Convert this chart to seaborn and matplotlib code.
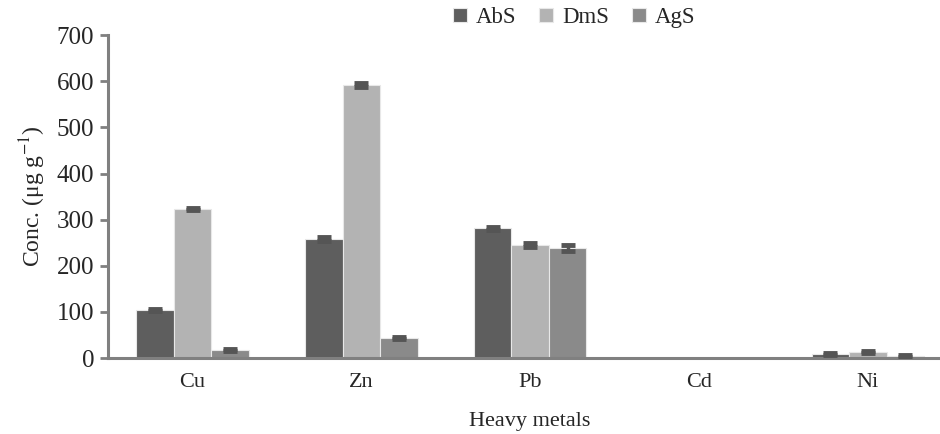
import matplotlib
matplotlib.use("Agg")
import matplotlib.pyplot as plt
import seaborn as sns
import pandas as pd
import numpy as np

metals = ["Cu", "Zn", "Pb", "Cd", "Ni"]
series = ["AbS", "DmS", "AgS"]
abs_vals = [104, 258, 281, 0.5, 8]
dms_vals = [323, 592, 245, 0.5, 14]
ags_vals = [18, 44, 238, 0.5, 5]
abs_err = [3, 5, 4, 0, 2]
dms_err = [3, 5, 4, 0, 2]
ags_err = [2, 2, 6, 0, 2]
yticks = [0, 100, 200, 300, 400, 500, 600, 700]
colors = ["#5e5e5e", "#b3b3b3", "#8a8a8a"]

sns.set_theme(style="white")
plt.rcParams["font.family"] = ["Liberation Serif", "DejaVu Serif"]
plt.rcParams["mathtext.fontset"] = "stix"

df = pd.DataFrame({
    "metal": metals * 3,
    "series": sum([[s] * len(metals) for s in series], []),
    "value": abs_vals + dms_vals + ags_vals,
})
errs = [abs_err, dms_err, ags_err]

fig = plt.figure(figsize=(9.4, 4.34), dpi=100)
ax = fig.add_axes([0.115, 0.175, 0.898, 0.744])
sns.barplot(data=df, x="metal", y="value", hue="series", hue_order=series,
            order=metals, palette=colors, width=0.667, errorbar=None,
            edgecolor="#e8e8e8", linewidth=0.8, ax=ax, saturation=1)

for cont, err in zip(ax.containers, errs):
    for bar, e in zip(cont, err):
        if e <= 0:
            continue
        v = bar.get_height()
        xc = bar.get_x() + bar.get_width() / 2
        ax.errorbar(xc, v, yerr=e, fmt="none", ecolor="#555555",
                    elinewidth=2.5, capsize=5, capthick=3.5, zorder=5)

ax.set_ylim(0, 700)
ax.set_yticks(yticks)
ax.set_xlim(-0.5, 4.5)
ax.tick_params(axis="y", which="both", direction="out", length=6, width=2,
               color="#808080", labelsize=18, pad=4, left=True)
ax.tick_params(axis="x", length=0, labelsize=16, pad=11)
for s in ["top", "right"]:
    ax.spines[s].set_visible(False)
for s in ["left", "bottom"]:
    ax.spines[s].set_color("#808080")
    ax.spines[s].set_linewidth(2.2)
ax.set_xlabel("Heavy metals", fontsize=16, labelpad=14)
ax.set_ylabel("Conc. (μg g$^{-1}$)", fontsize=17, labelpad=6)

handles, labels = ax.get_legend_handles_labels()
ax.legend(handles, labels, loc="center", bbox_to_anchor=(0.552, 1.055),
          ncol=3, frameon=False, fontsize=16.5, handlelength=0.6,
          handleheight=0.6, handletextpad=0.4, columnspacing=1.0)

fig.savefig("out.png", dpi=100)
